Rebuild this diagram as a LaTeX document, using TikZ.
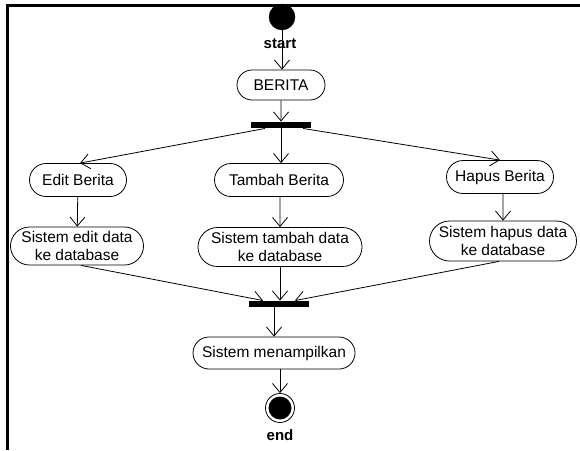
\documentclass[tikz,border=0pt]{standalone}
\usepackage{fontspec}
\setmainfont{Liberation Sans}
\usetikzlibrary{arrows.meta,shapes.misc,calc}
\begin{document}
\begin{tikzpicture}[x=1pt,y=-1pt,
  font=\fontsize{15.5}{17.5}\selectfont,
  act/.style={draw,rounded rectangle,line width=0.8pt,inner sep=0pt,align=center},
  bar/.style={fill=black,draw=none,rectangle,inner sep=0pt,minimum height=6.5pt,minimum width=60pt},
  flow/.style={draw,line width=0.8pt,-{Straight Barb[length=9pt,width=15pt,line width=0.8pt]}},
  lbl/.style={font=\fontsize{15}{16}\selectfont\bfseries,inner sep=0pt}]
\useasboundingbox (0,0) rectangle (580,450);

% open frame: top and left edges
\draw[line width=3pt] (7.5,450) -- (7.5,5.5) -- (580,5.5);

% start / end markers
\node[circle,fill=black,draw=black,minimum size=26pt,inner sep=0pt] (start) at (282,17) {};
\node[lbl] (startlbl) at (280,44) {start};
\node[circle,draw=black,line width=0.8pt,minimum size=29pt,inner sep=0pt] (end) at (280,408) {};
\fill (end.center) circle (11.5pt);
\node[lbl] (endlbl) at (280,435) {end};

% activities
\node[act,minimum width=88pt,minimum height=30pt] (berita) at (281,85) {BERITA};
\node[bar] (fork) at (281,125) {};
\node[act,minimum width=97pt,minimum height=33pt] (edit) at (78,180) {Edit Berita};
\node[act,minimum width=129pt,minimum height=33pt] (tambah) at (279,180) {Tambah Berita};
\node[act,minimum width=107pt,minimum height=33pt] (hapus) at (500,177) {Hapus Berita};
\node[act,minimum width=133pt,minimum height=38pt] (sedit) at (77,246) {Sistem edit data\\ke database};
\node[act,minimum width=164pt,minimum height=39pt] (stambah) at (280,247) {Sistem tambah data\\ke database};
\node[act,minimum width=147pt,minimum height=40pt] (shapus) at (503,241) {Sistem hapus data\\ke database};
\node[bar] (join) at (279,304) {};
\node[act,minimum width=162pt,minimum height=32pt] (tampil) at (274,353) {Sistem menampilkan};

% control flow
\draw[flow] (start.south) -- (berita.north -| start.south);
\draw[flow] (berita) -- (fork);
\draw[flow] ($(fork.south)+(-16,0)$) -- ($(edit.north)+(2,0)$);
\draw[flow] (fork.south) -- (tambah.north -| fork.south);
\draw[flow] ($(fork.south)+(22,0)$) -- ($(hapus.north)+(0,0)$);
\draw[flow] (edit) -- (sedit);
\draw[flow] (tambah.south -| stambah.north) -- (stambah);
\draw[flow] (hapus.south -| shapus.north) -- (shapus);
\draw[flow] ($(sedit.south)+(4,0)$) -- ($(join.north)+(-16,0)$);
\draw[flow] (stambah.south) -- (join.north -| stambah.south);
\draw[flow] ($(shapus.south)+(-4,0)$) -- ($(join.north)+(16,0)$);
\draw[flow] (join.south -| tampil.north) -- (tampil.north);
\draw[flow] (tampil.south -| end.north) -- (end.north);
\end{tikzpicture}
\end{document}
